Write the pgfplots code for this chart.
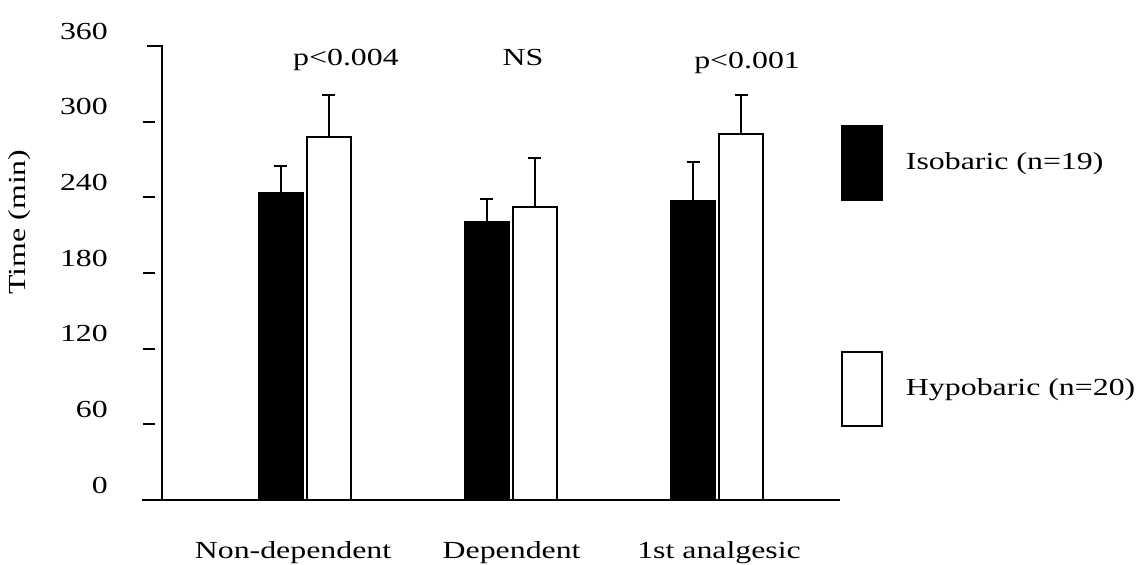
\documentclass[border=0pt]{standalone}
\usepackage{fontspec}
\setmainfont{Liberation Serif}[FakeStretch=1.3]
\usepackage{pgfplots}
\pgfplotsset{compat=1.18}
\begin{document}
\fontsize{24.5bp}{28bp}\selectfont
\begin{tikzpicture}
\path[use as bounding box] (0,0) rectangle (1142bp,565bp);
\begin{axis}[
  at={(142bp,65bp)}, anchor=south west,
  scale only axis, width=698bp, height=454bp,
  xmin=-0.791, xmax=2.597, ymin=0, ymax=360,
  clip=false,
  axis line style={draw=none},
  ybar=4bp, bar width=44bp,
  ytick={0,60,120,180,240,300,360},
  major tick length=0pt,
  /pgf/number format/assume math mode=true,
  yticklabel style={anchor=east, inner sep=0pt, xshift=-34bp, yshift=15bp},
  xtick={-0.058,1.003,2.01},
  xticklabels={Non-dependent,Dependent,1st analgesic},
  xticklabel style={anchor=base, inner sep=0pt, yshift=-58bp},
  legend image code/.code={\draw[#1, line width=1.8bp] (0bp,-37bp) rectangle (40bp,37bp);},
  legend cell align=left,
  legend style={draw=none, fill=none, at={(1.0014,0.826)}, anchor=north west,
    row sep=150bp, column sep=21bp, inner sep=0pt},
]
\addplot[fill=black, draw=black, line width=1.8bp,
  error bars/.cd, y dir=plus, y explicit,
  error bar style={line width=1.8bp, black},
  error mark=-,
  error mark options={rotate=90, mark size=6.5bp, line width=1.8bp, black}]
  coordinates {(0,243.4) +- (0,21.5) (1,220.5) +- (0,18.2) (2,237.1) +- (0,30.9)};
\addlegendentry{Isobaric (n=19)}
\addplot[fill=white, draw=black, line width=1.8bp,
  error bars/.cd, y dir=plus, y explicit,
  error bar style={line width=1.8bp, black},
  error mark=-,
  error mark options={rotate=90, mark size=6.5bp, line width=1.8bp, black}]
  coordinates {(0,287.9) +- (0,33.3) (1,232.3) +- (0,38.9) (2,290.2) +- (0,31.0)};
\addlegendentry{Hypobaric (n=20)}
% axis lines
\draw[line width=1.8bp] (axis cs:-0.791,0) -- (axis cs:2.597,0);
\draw[line width=1.8bp] (axis cs:-0.767,360) -- (axis cs:-0.694,360) -- (axis cs:-0.694,0);
\draw[line width=1.8bp] (axis cs:-0.786,60) -- (axis cs:-0.728,60);
\draw[line width=1.8bp] (axis cs:-0.786,120) -- (axis cs:-0.728,120);
\draw[line width=1.8bp] (axis cs:-0.786,180) -- (axis cs:-0.728,180);
\draw[line width=1.8bp] (axis cs:-0.786,240) -- (axis cs:-0.728,240);
\draw[line width=1.8bp] (axis cs:-0.786,300) -- (axis cs:-0.728,300);
% annotations
\node at (axis cs:0.199,349) {p<0.004};
\node at (axis cs:1.058,351) {NS};
\node at (axis cs:2.146,346.5) {p<0.001};
\end{axis}
\node[rotate=90] at (20bp,343bp) {Time (min)};
\end{tikzpicture}
\end{document}
